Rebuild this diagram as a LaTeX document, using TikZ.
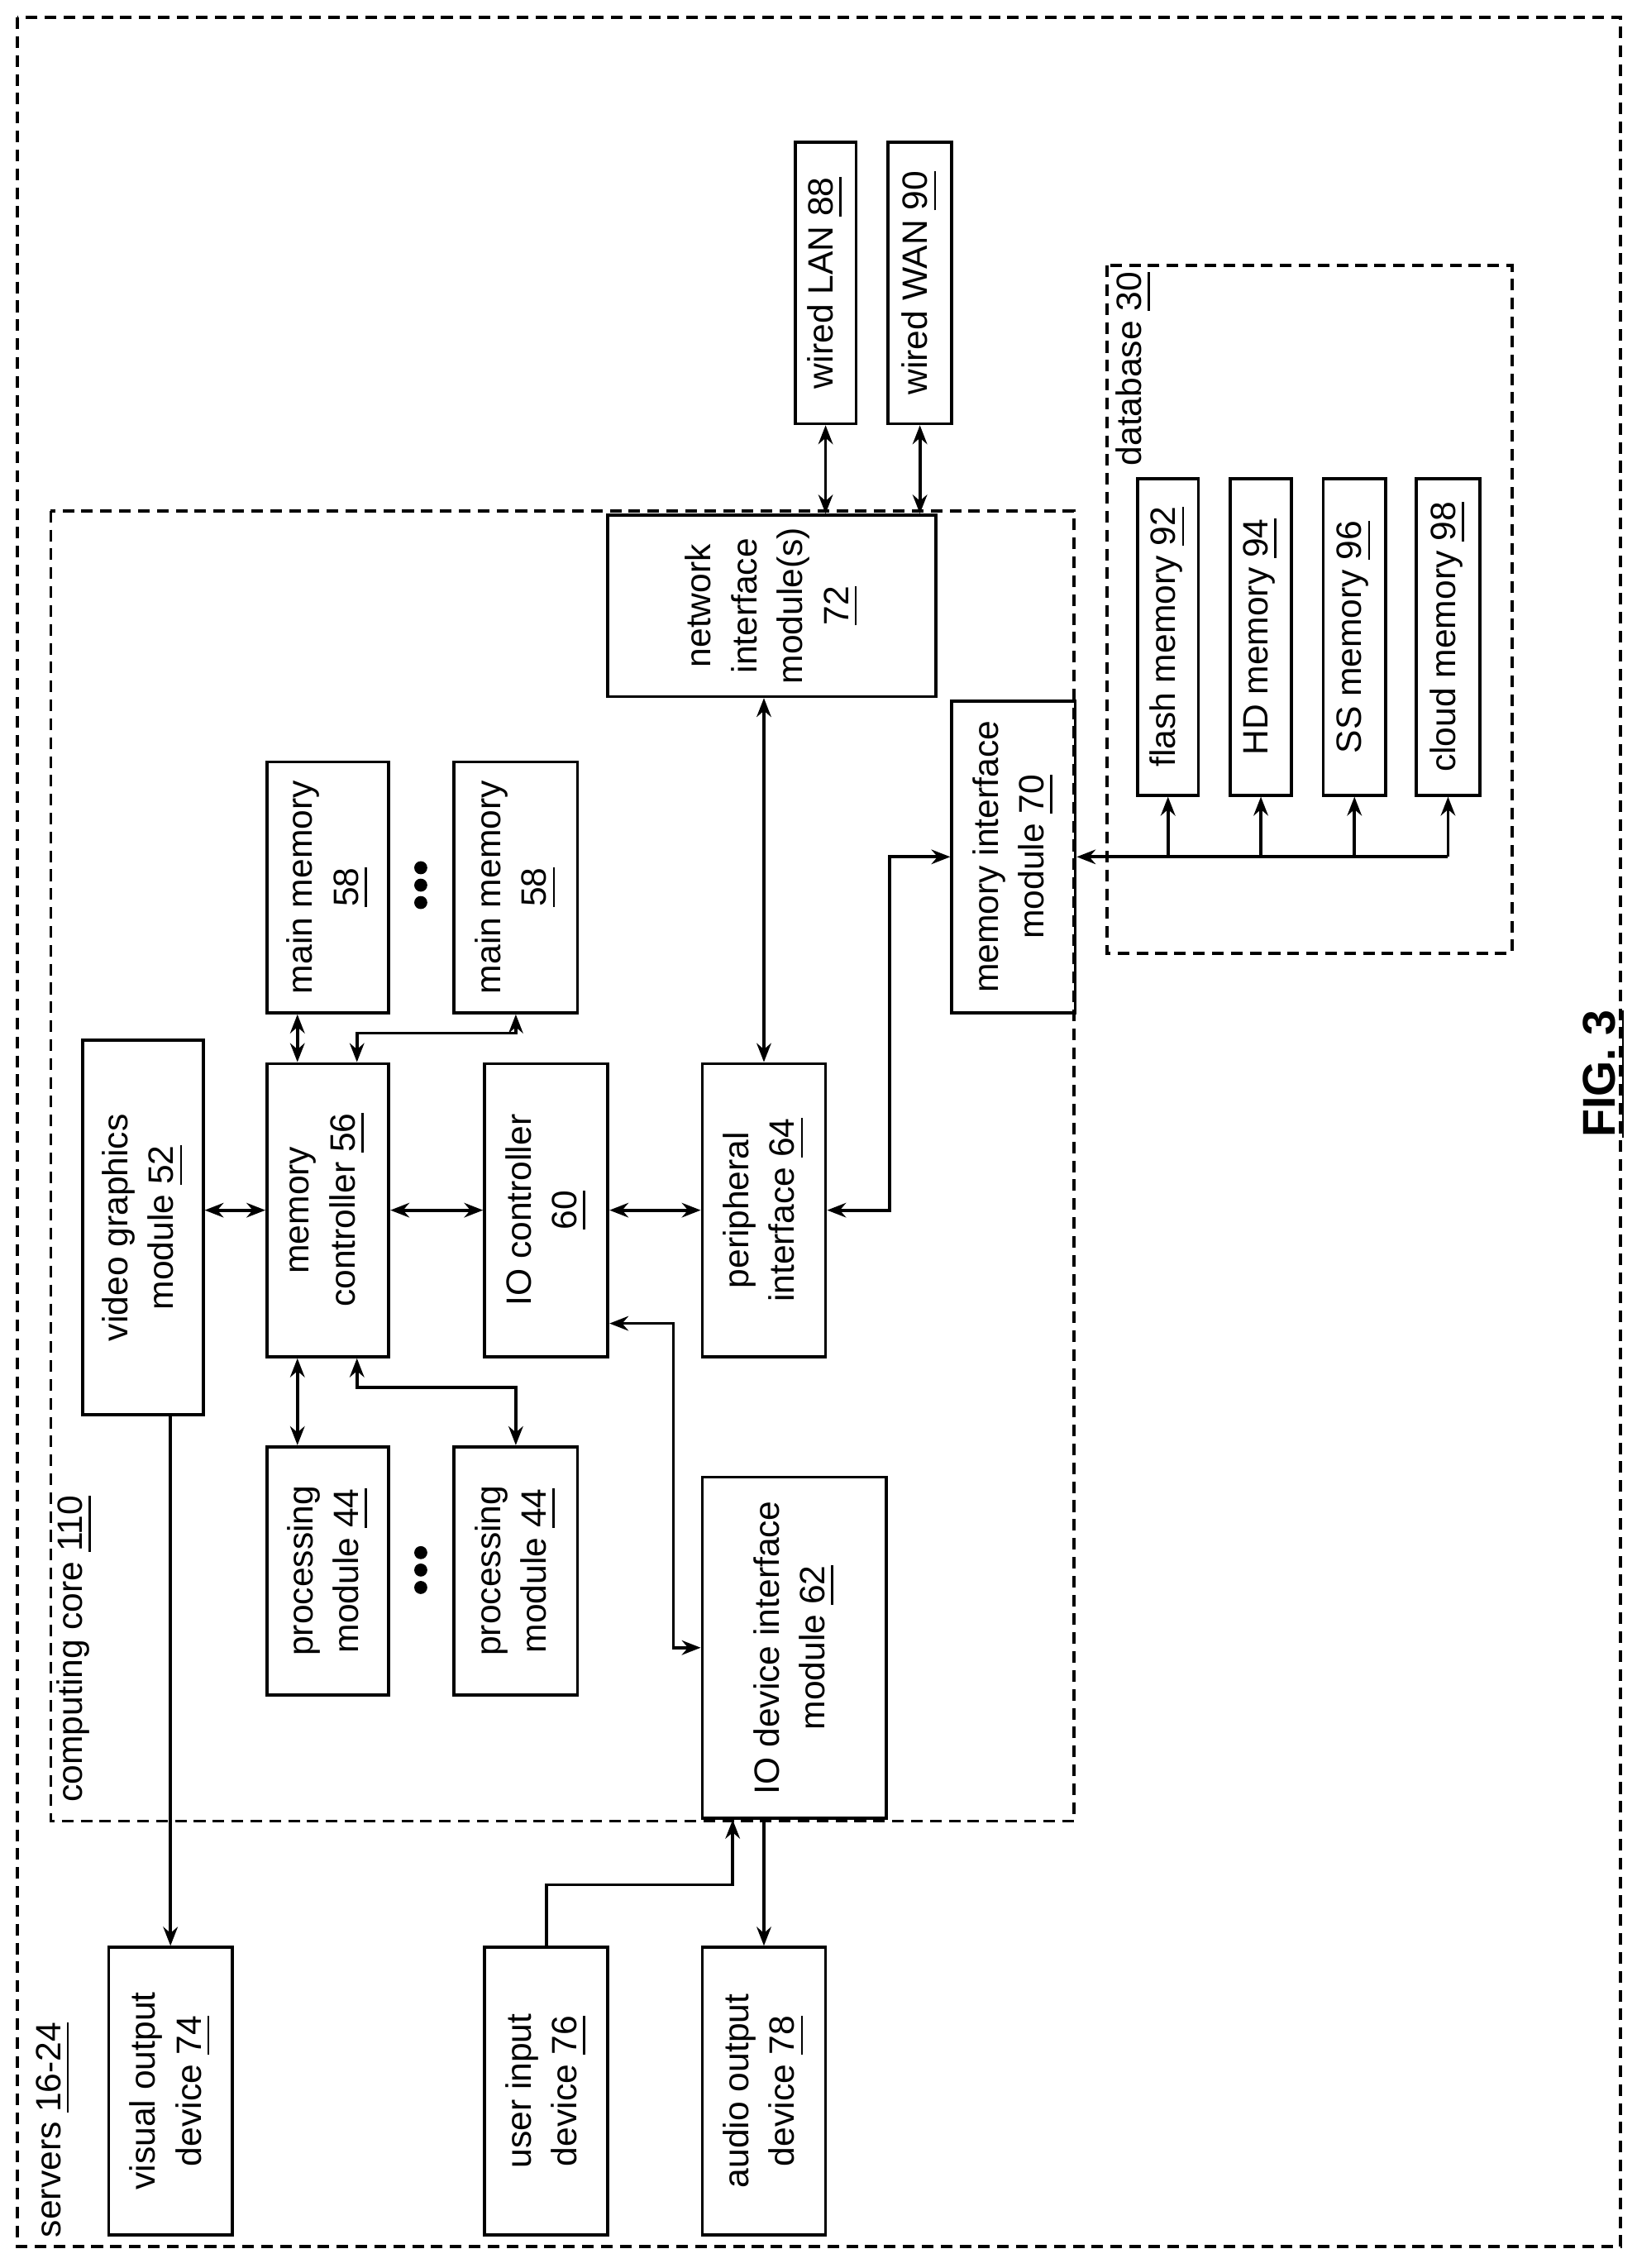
\documentclass[tikz,border=0pt]{standalone}
\usepackage{fontspec}
\setmainfont{Liberation Sans}
\usetikzlibrary{arrows.meta}
\begin{document}
\begin{tikzpicture}[x=0.01cm,y=-0.01cm,line width=0.6pt,
  box/.style={draw,rotate=90,inner sep=0pt,align=center,font=\fontsize{6.9}{9}\selectfont},
  lbl/.style={rotate=90,inner sep=0pt,font=\fontsize{6.9}{9}\selectfont},
  dsh/.style={dash pattern=on 0.08cm off 0.05cm},
  dar/.style={{Stealth[length=0.13cm,width=0.1cm]}-{Stealth[length=0.13cm,width=0.1cm]}},
  sar/.style={-{Stealth[length=0.13cm,width=0.1cm]}}]
\newcommand\mybox[6]{\node[box,minimum width={(#5-#3)*0.01cm},minimum height={(#4-#2)*0.01cm}] (#1) at ({(#2+#4)/2},{(#3+#5)/2}) {#6};}
\useasboundingbox (0,0) rectangle (1128,1563);
\draw[dsh] (12,12) rectangle (1117,1548);
\draw[dsh] (35,352) rectangle (740,1255);
\draw[dsh] (763,183) rectangle (1042,657);
\node[lbl,anchor=south west] (lsrv) at (50,1543) {servers \underline{16-24}};
\node[lbl,anchor=south west] (lcc) at (65,1243) {computing core \underline{110}};
\node[lbl,anchor=south west] (ldb) at (795,322) {database \underline{30}};
\node[rotate=90,font=\fontsize{9}{11}\selectfont\bfseries] (fig) at (1106,740) {\underline{FIG. 3}};
\mybox{vg}{57}{717}{140}{975}{video graphics\\module \underline{52}}
\mybox{mc}{184}{733}{268}{935}{memory\\controller \underline{56}}
\mybox{ioc}{334}{733}{419}{935}{IO controller\\\underline{60}}
\mybox{per}{484}{733}{569}{935}{peripheral\\interface \underline{64}}
\mybox{mma}{184}{525}{268}{698}{main memory\\\underline{58}}
\mybox{mmb}{313}{525}{398}{698}{main memory\\\underline{58}}
\mybox{pra}{184}{997}{268}{1168}{processing\\module \underline{44}}
\mybox{prb}{313}{997}{398}{1168}{processing\\module \underline{44}}
\mybox{iod}{484}{1018}{611}{1253}{IO device interface\\module \underline{62}}
\mybox{nim}{419}{355}{645}{480}{network\\interface\\module(s)\\\underline{72}}
\mybox{mi}{656}{483}{741}{698}{memory interface\\module \underline{70}}
\mybox{lan}{548}{98}{590}{292}{wired LAN \underline{88}}
\mybox{wan}{612}{98}{656}{292}{wired WAN \underline{90}}
\mybox{fl}{784}{330}{826}{548}{flash memory \underline{92}}
\mybox{hd}{848}{330}{890}{548}{HD memory \underline{94}}
\mybox{ss}{912}{330}{955}{548}{SS memory \underline{96}}
\mybox{cl}{976}{330}{1020}{548}{cloud memory \underline{98}}
\mybox{vis}{75}{1342}{160}{1540}{visual output\\device \underline{74}}
\mybox{ui}{334}{1342}{419}{1540}{user input\\device \underline{76}}
\mybox{aud}{484}{1342}{569}{1540}{audio output\\device \underline{78}}
\foreach \y in {598,610,622,1070,1082,1094} \fill (290,\y) circle (4.5);
\draw[dar] (vg.south |- mc.center) -- (mc.north);
\draw[dar] (mc.south) -- (ioc.north);
\draw[dar] (ioc.south) -- (per.north);
\draw[dar] ([xshift=-0.21cm]mc.east) -- ([xshift=-0.21cm]mma.west);
\draw[dar] ([xshift=0.2cm]mc.east) -- ++(0,-20) -| (mmb.west);
\draw[dar] ([xshift=-0.21cm]mc.west) -- ([xshift=-0.21cm]pra.east);
\draw[dar] ([xshift=0.2cm]mc.west) -- ++(0,20) -| (prb.east);
\draw[dar] (per.east) -- (per.east |- nim.west);
\draw[dar] (per.south) -- ++(43,0) |- (mi.north);
\draw[dar] ([yshift=-0.78cm]ioc.south) -- ++(44,0) |- (iod.north);
\draw[dar] (lan.west) -- (lan.west |- nim.east);
\draw[dar] (wan.west) -- (wan.west |- nim.east);
\draw[{Stealth[length=0.13cm,width=0.1cm]}-] (mi.south) -- (cl.west |- mi.south);
\foreach \m in {fl,hd,ss,cl} \draw[sar] (\m.west |- mi.south) -- (\m.west);
\draw[sar] (vg.west -| vis.east) -- (vis.east);
\draw[sar] (ui.east) -- ++(0,-42) -| ([xshift=-0.425cm]iod.west);
\draw[sar] (iod.west -| aud.east) -- (aud.east);
\end{tikzpicture}
\end{document}
